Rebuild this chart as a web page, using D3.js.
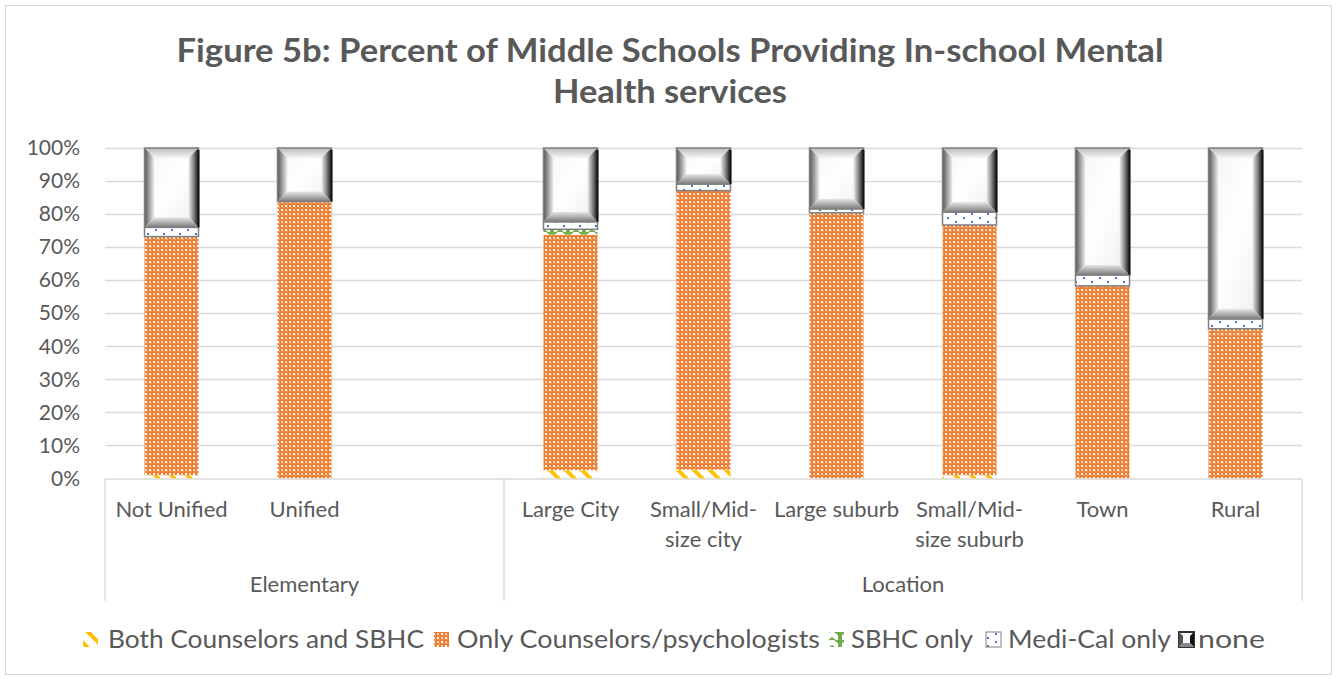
<!DOCTYPE html>
<html><head><meta charset="utf-8">
<script src="https://cdn.jsdelivr.net/npm/d3@7"></script>
<style>body{margin:0;background:#fff}svg{display:block}text{font-family:Lato,"Open Sans",sans-serif;fill:#595959}</style>
</head><body><svg id="c" width="1338" height="679"></svg>
<script>
const categories = ["Not Unified","Unified","","Large City","Small/Mid-size city","Large suburb","Small/Mid-size suburb","Town","Rural"];
const categoryLabels = [["Not Unified"],["Unified"],[""],["Large City"],["Small/Mid-","size city"],["Large suburb"],["Small/Mid-","size suburb"],["Town"],["Rural"]];
const groupNames = ["Elementary","Location"];
const groupStart = [0,3];
const groupEnd = [3,9];
const seriesNames = ["Both Counselors and SBHC","Only Counselors/psychologists","SBHC only","Medi-Cal only","none"];
const bothVals  = [1.0, 0, null, 2.5, 2.7, 0, 1.0, 0, 0];
const onlyVals  = [72.2, 83.8, null, 71.3, 84.4, 80.4, 75.7, 58.3, 45.3];
const sbhcVals  = [0, 0, null, 1.6, 0, 0, 0, 0, 0];
const mediVals  = [2.8, 0, null, 2.3, 2.0, 1.2, 3.9, 3.3, 3.0];
const noneVals  = [24.0, 16.2, null, 22.3, 10.9, 18.4, 19.4, 38.4, 51.7];
const yTicks = [0,10,20,30,40,50,60,70,80,90,100];
const titleLines = ["Figure 5b: Percent of Middle Schools Providing In-school Mental","Health services"];

const svg = d3.select("#c");
const defs = svg.append("defs");
// patterns
const pO = defs.append("pattern").attr("id","pOnly").attr("patternUnits","userSpaceOnUse").attr("width",8).attr("height",8);
pO.append("rect").attr("width",8).attr("height",8).attr("fill","#ED7D31");
[[1,1,"#fff"],[5,5,"#fff"],[5,1,"#F8CFB2"],[1,5,"#F8CFB2"]].forEach(p=>pO.append("rect").attr("x",p[0]).attr("y",p[1]).attr("width",2).attr("height",2).attr("fill",p[2]));
[[3,3],[7,7],[3,7],[7,3]].forEach(p=>pO.append("rect").attr("x",p[0]).attr("y",p[1]).attr("width",1).attr("height",1).attr("fill","#F4B183"));
const pB = defs.append("pattern").attr("id","pBoth").attr("patternUnits","userSpaceOnUse").attr("width",16).attr("height",16);
pB.append("rect").attr("width",16).attr("height",16).attr("fill","#fff");
pB.append("path").attr("d","M0,0 L16,16 M-8,8 L8,24 M8,-8 L24,8").attr("stroke","#FFC000").attr("stroke-width",4);
const pS = defs.append("pattern").attr("id","pSbhc").attr("patternUnits","userSpaceOnUse").attr("width",16).attr("height",8);
pS.append("rect").attr("width",16).attr("height",8).attr("fill","#fff");
pS.append("path").attr("d","M2,0 L14,0 L8,5 Z M0,8 L4,8 L0,5 Z M16,8 L12,8 L16,5 Z").attr("fill","#70AD47");
pS.append("rect").attr("x",6).attr("y",3).attr("width",4).attr("height",5).attr("fill","#70AD47");
const pM = defs.append("pattern").attr("id","pMedi").attr("patternUnits","userSpaceOnUse").attr("width",16).attr("height",8);
pM.append("rect").attr("width",16).attr("height",8).attr("fill","#fff");
pM.append("rect").attr("x",3).attr("y",1).attr("width",2).attr("height",2).attr("fill","#4472C4");
pM.append("rect").attr("x",11).attr("y",5).attr("width",2).attr("height",2).attr("fill","#4472C4");
function lg(id,x2,y2,stops){const g=defs.append("linearGradient").attr("id",id).attr("x1",0).attr("y1",0).attr("x2",x2).attr("y2",y2);stops.forEach(s=>g.append("stop").attr("offset",s[0]).attr("stop-color",s[1]));}
lg("gL",1,0,[[0,"#555"],[1,"#f2f2f2"]]);
lg("gR",1,0,[[0,"#eee"],[0.5,"#888"],[1,"#111"]]);
lg("gB",0,1,[[0,"#e8e8e8"],[1,"#7a7a7a"]]);
lg("gT",0,1,[[0,"#bbb"],[1,"#f5f5f5"]]);
lg("gC",1,1,[[0,"#f4f4f4"],[0.5,"#ffffff"],[1,"#eeeeee"]]);

// outer border
svg.append("rect").attr("x",5.5).attr("y",5.5).attr("width",1326).attr("height",669).attr("fill","none").attr("stroke","#D9D9D9");

// title
const titleW = [987, 234];
svg.selectAll(".title").data(titleLines).join("text").attr("class","title")
  .attr("x",670).attr("y",(d,i)=>62+i*41).attr("text-anchor","middle")
  .attr("textLength",(d,i)=>titleW[i]).attr("lengthAdjust","spacingAndGlyphs")
  .style("font-size","33px").style("font-weight","bold").text(d=>d);

const x = d3.scaleBand().domain(categories.map((d,i)=>i)).range([105,1302]).paddingInner(0.594).paddingOuter(0.297);
const y = d3.scaleLinear().domain([0,100]).range([478.5,148]);

// gridlines
svg.append("g").selectAll("line").data(yTicks.filter(t=>t>0)).join("line")
  .attr("x1",105).attr("x2",1302).attr("y1",d=>Math.round(y(d))+0.5).attr("y2",d=>Math.round(y(d))+0.5)
  .attr("stroke","#D9D9D9").attr("stroke-width",1.3);
// y axis labels
const yAxis = d3.axisLeft(y).tickValues(yTicks).tickFormat(d=>d+"%").tickSize(0).tickPadding(0);
const ya = svg.append("g").attr("transform","translate(80,0)").call(yAxis);
ya.select(".domain").remove();
ya.selectAll("text").style("font-size","21px").style("fill","#595959").style("font-family","Lato,sans-serif");

// stacks
const stackKeys = ["both","only","sbhc","medi","none"];
const rows = categories.map((c,i)=>({i, both:bothVals[i]||0, only:onlyVals[i]||0, sbhc:sbhcVals[i]||0, medi:mediVals[i]||0, none:noneVals[i]||0, empty:onlyVals[i]==null}));
const stacked = d3.stack().keys(stackKeys)(rows.filter(r=>!r.empty));
const fills = {both:"url(#pBoth)", only:"url(#pOnly)", sbhc:"url(#pSbhc)", medi:"url(#pMedi)"};
const gb = svg.append("g");
stacked.forEach(layer=>{
  const k = layer.key;
  layer.forEach(seg=>{
    if(seg[1]-seg[0] <= 0) return;
    const x0 = x(seg.data.i), w = x.bandwidth();
    const yt = y(seg[1]), yb = y(seg[0]);
    if(k!=="none"){
      gb.append("rect").attr("x",x0).attr("y",yt).attr("width",w).attr("height",yb-yt).attr("fill",fills[k])
        .attr("stroke",k==="medi"?"#7F7F7F":"none").attr("stroke-width",1.5);
    } else {
      const b = 10, x1 = x0+w;
      const g = gb.append("g");
      g.append("rect").attr("x",x0).attr("y",yt).attr("width",w).attr("height",yb-yt).attr("fill","url(#gC)");
      g.append("polygon").attr("points",[[x0,yt],[x1,yt],[x1-b,yt+b],[x0+b,yt+b]].join(" ")).attr("fill","url(#gT)");
      g.append("polygon").attr("points",[[x0,yt],[x0+b,yt+b],[x0+b,yb-b],[x0,yb]].join(" ")).attr("fill","url(#gL)");
      g.append("polygon").attr("points",[[x1,yt],[x1-b,yt+b],[x1-b,yb-b],[x1,yb]].join(" ")).attr("fill","url(#gR)");
      g.append("polygon").attr("points",[[x0,yb],[x0+b,yb-b],[x1-b,yb-b],[x1,yb]].join(" ")).attr("fill","url(#gB)");
      g.append("rect").attr("x",x0).attr("y",yt).attr("width",w).attr("height",yb-yt).attr("fill","none").attr("stroke","#7F7F7F").attr("stroke-width",1.5);
      g.append("line").attr("x1",x1).attr("x2",x1).attr("y1",yt+2).attr("y2",yb).attr("stroke","#111").attr("stroke-width",2);
    }
  });
});

// x axis line and separators
const step = x.step();
svg.append("line").attr("x1",105).attr("x2",1302).attr("y1",479).attr("y2",479).attr("stroke","#D9D9D9").attr("stroke-width",1.3);
const seps = [105, 105+3*step, 1302];
svg.append("g").selectAll("line").data(seps).join("line").attr("x1",d=>d).attr("x2",d=>d).attr("y1",479).attr("y2",601)
  .attr("stroke","#D9D9D9").attr("stroke-width",1.3);

// category labels
const cl = svg.append("g");
categoryLabels.forEach((lines,i)=>{
  const cx = x(i)+x.bandwidth()/2;
  lines.forEach((t,j)=>cl.append("text").attr("x",cx).attr("y",517+j*30).attr("text-anchor","middle").style("font-size","22px").text(t));
});
// group labels
groupNames.forEach((g,k)=>{
  const cx = (105+groupStart[k]*step + 105+groupEnd[k]*step)/2;
  svg.append("text").attr("x",cx).attr("y",592).attr("text-anchor","middle").style("font-size","22px").text(g);
});

// legend
const legX = [83, 434, 829, 986, 1179];
const legTextX = [108, 457, 851, 1008, 1198];
const legTextW = [316, 363, 122, 163, 67];
const legFill = ["url(#pBoth)","url(#pOnly)","url(#pSbhc)","url(#pMedi)",null];
const lgG = svg.append("g");
seriesNames.forEach((n,i)=>{
  const sx = legX[i], sy = 632, s = 15;
  if(i<4){
    lgG.append("rect").attr("x",sx).attr("y",sy).attr("width",s).attr("height",s).attr("fill",legFill[i])
      .attr("stroke",i===3?"#7F7F7F":"none").attr("stroke-width",1);
  } else {
    lgG.append("rect").attr("x",sx).attr("y",sy).attr("width",s).attr("height",s).attr("fill","url(#gC)").attr("stroke","#333").attr("stroke-width",2);
    lgG.append("polygon").attr("points",[[sx,sy],[sx+4,sy+4],[sx+4,sy+11],[sx,sy+s]].join(" ")).attr("fill","#555");
    lgG.append("polygon").attr("points",[[sx+s,sy],[sx+11,sy+4],[sx+11,sy+11],[sx+s,sy+s]].join(" ")).attr("fill","#111");
    lgG.append("polygon").attr("points",[[sx,sy+s],[sx+4,sy+11],[sx+11,sy+11],[sx+s,sy+s]].join(" ")).attr("fill","#888");
  }
  lgG.append("text").attr("x",legTextX[i]).attr("y",648).attr("textLength",legTextW[i]).attr("lengthAdjust","spacingAndGlyphs")
    .style("font-size","25px").text(n);
});
</script></body></html>
